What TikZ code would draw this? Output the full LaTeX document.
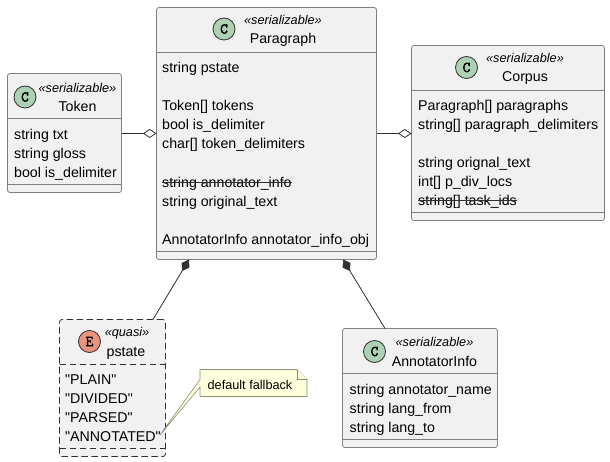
\documentclass[tikz,border=0pt]{standalone}
\usepackage{fontspec}
\setmainfont{Liberation Sans}
\newfontfamily\glyphfont[FakeBold=2.5]{Latin Modern Mono}
\usetikzlibrary{arrows.meta}
\definecolor{boxfill}{HTML}{F1F1F1}
\definecolor{boxline}{HTML}{7F7F7F}
\definecolor{linkline}{HTML}{303030}
\definecolor{iconC}{HTML}{ADD1B2}
\definecolor{iconE}{HTML}{EB937F}
\definecolor{notefill}{HTML}{FEFFDD}
\definecolor{noteline}{HTML}{8C8C6E}
\tikzset{
 classbox/.style={draw=boxline, fill=boxfill, line width=.8pt, rounded corners=2.5, inner sep=0, outer sep=0},
 divider/.style={draw=boxline, line width=.8pt},
 icon/.style={circle, draw=linkline, line width=.8pt, minimum size=22, inner sep=0, font=\glyphfont\fontsize{15}{15}\selectfont},
 stereo/.style={anchor=base, inner sep=0, font=\itshape\fontsize{12.7}{12.7}\selectfont},
 title/.style={anchor=base, inner sep=0, font=\fontsize{14.2}{14.2}\selectfont},
 rowtext/.style={anchor=base west, inner sep=0, font=\fontsize{14.2}{14.2}\selectfont},
 link/.style={draw=linkline, line width=.8pt},
 strike/.style={draw=linkline, line width=.9pt},
}
\begin{document}
\begin{tikzpicture}[x=1pt, y=-1pt]
\useasboundingbox (0,0) rectangle (610,462);
\node[classbox, minimum width=114, minimum height=119] (token) at (64.5,133) {};
\node[classbox, minimum width=220, minimum height=252] (paragraph) at (266.5,133.5) {};
\node[classbox, minimum width=193, minimum height=175] (corpus) at (508,133) {};
\node[classbox, dash pattern=on 6.5 off 3.5, draw=linkline, minimum width=106, minimum height=137] (pstate) at (112.5,388) {};
\node[classbox, minimum width=155, minimum height=119] (annotinfo) at (420,388) {};
\foreach \name/\ya/\yb in {token/118.5/184.5, paragraph/52.5/251.5, corpus/90.5/212.5, annotinfo/373.5/439.5} {
 \draw[divider] (\name.west |- 0,\ya) -- (\name.east |- 0,\ya);
 \draw[divider] (\name.west |- 0,\yb) -- (\name.east |- 0,\yb);
}
\foreach \y in {364.5, 448.5} {
 \draw[divider, draw=linkline, dash pattern=on 6.5 off 3.5] (pstate.west |- 0,\y) -- (pstate.east |- 0,\y);
}
\foreach \name/\x/\y/\ttl/\sx in {token/25/97/Token/77.5, paragraph/224/29/Paragraph/283, corpus/466.5/67.5/Corpus/525, annotinfo/374.5/351.5/AnnotatorInfo/434.5} {
 \node[icon, fill=iconC] (\name icon) at (\x,\y) {C};
 \node[stereo] (\name stereo) at (\sx,\y-4.7) {«serializable»};
 \node[title] (\name title) at (\sx,\y+14.5) {\ttl};
}
\node[icon, fill=iconE] (pstateicon) at (89.5,341.5) {E};
\node[stereo] (pstatestereo) at (127,336.8) {«quasi»};
\node[title] (pstatetitle) at (126,356) {pstate};
\foreach \i/\y/\txt in {1/139.7/string txt, 2/158.7/string gloss, 3/177.7/bool is\textunderscore delimiter} {
 \node[rowtext] (tokenrow\i) at (14,\y) {\txt};
}
\foreach \i/\y/\txt in {1/72.7/string pstate, 2/110.7/Token[] tokens, 3/129.7/bool is\textunderscore delimiter, 4/148.7/char[] token\textunderscore delimiters, 5/187.7/string annotator\textunderscore info, 6/206.7/string original\textunderscore text, 7/244.7/AnnotatorInfo annotator\textunderscore info\textunderscore obj} {
 \node[rowtext] (pararow\i) at (162,\y) {\txt};
}
\foreach \i/\y/\txt in {1/110.7/Paragraph[] paragraphs, 2/129.7/string[] paragraph\textunderscore delimiters, 3/167.7/string orignal\textunderscore text, 4/186.7/int[] p\textunderscore div\textunderscore locs, 5/205.7/string[] task\textunderscore ids} {
 \node[rowtext] (corpusrow\i) at (418,\y) {\txt};
}
\foreach \i/\y/\txt in {1/384.7/PLAIN, 2/403.7/DIVIDED, 3/422.7/PARSED, 4/441.7/ANNOTATED} {
 \node[rowtext] (pstaterow\i) at (65,\y) {\textquotedbl\txt\textquotedbl};
}
\foreach \i/\y/\txt in {1/394.7/string annotator\textunderscore name, 2/413.7/string lang\textunderscore from, 3/432.7/string lang\textunderscore to} {
 \node[rowtext] (annotrow\i) at (349.5,\y) {\txt};
}
\draw[strike] ([yshift=5]pararow5.base west) -- ([yshift=5]pararow5.base east);
\draw[strike] ([yshift=5]corpusrow5.base west) -- ([yshift=5]corpusrow5.base east);
\draw[link, -{Diamond[open, length=13.5, width=9, line width=.8pt]}] (paragraph.west -| token.east) -- (paragraph.west);
\draw[link, -{Diamond[open, length=13.5, width=9, line width=.8pt]}] (paragraph.east) -- (paragraph.east -| corpus.west);
\coordinate (compleft) at (189,259.5);
\coordinate (compright) at (343,259.5);
\coordinate (pstatetop) at (153,319.5);
\coordinate (annottop) at (385,328.5);
\draw[link, -{Diamond[length=13.5, width=9]}] (pstatetop) -- (compleft);
\draw[link, -{Diamond[length=13.5, width=9]}] (annottop) -- (compright);
\coordinate (notetip) at (160,435);
\draw[fill=notefill, draw=noteline, line width=.6pt] (200,379.5) -- (notetip) -- (200,387) -- (200,396.5) -- (307,396.5) -- (307,379.5) -- (297,369.5) -- (200,369.5) -- cycle;
\draw[fill=notefill, draw=noteline, line width=.6pt] (297,369.5) -- (297,379.5) -- (307,379.5);
\node[inner sep=0, font=\fontsize{12.7}{12.7}\selectfont] (fallback) at (250,384.5) {default fallback};
\end{tikzpicture}
\end{document}
